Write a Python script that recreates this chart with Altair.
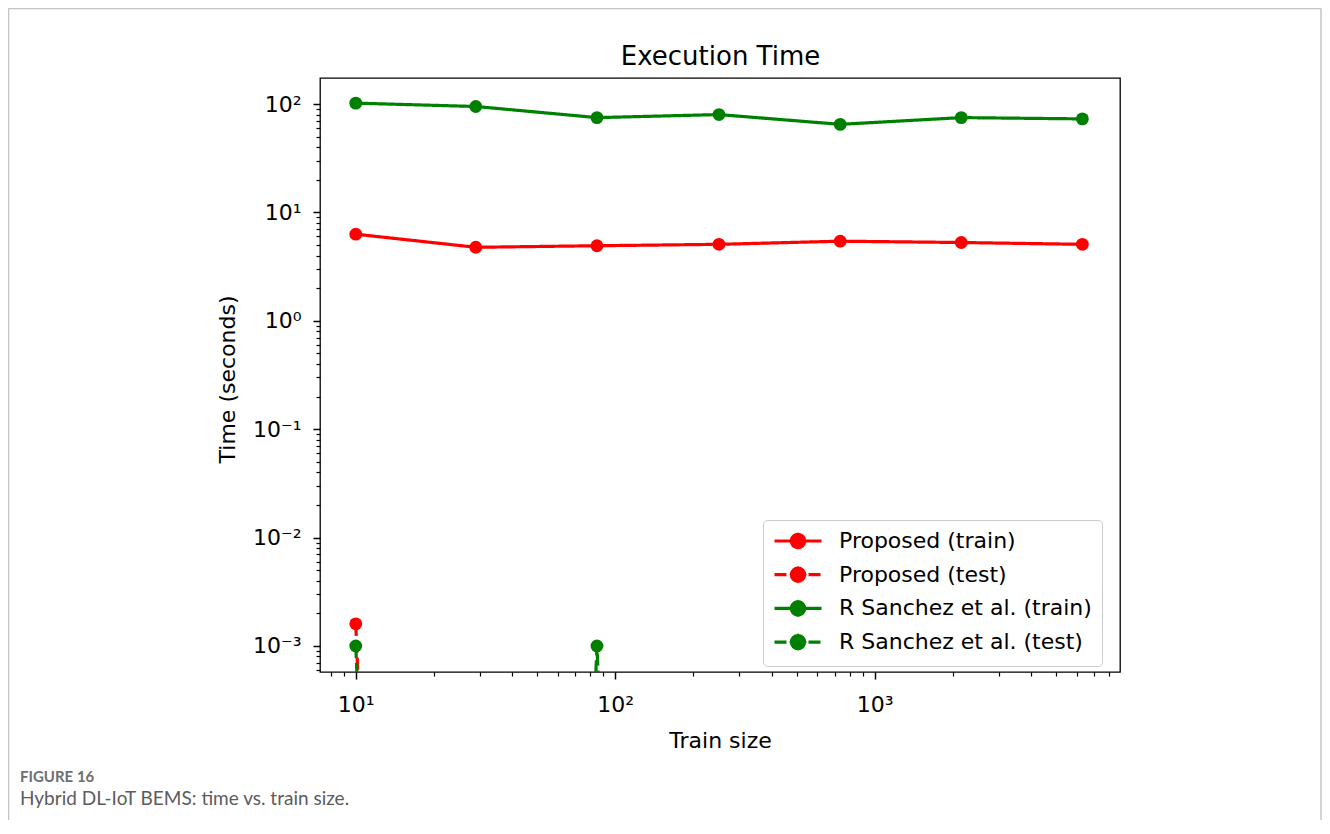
import json
import altair as alt
import pandas as pd

# ---- data ----
train_size = [10, 29, 85, 251, 736, 2154, 6309]
proposed_train = [6.3, 4.77, 4.93, 5.08, 5.43, 5.28, 5.08]
proposed_test = [0.0016, 0, 0, 0, 0, 0, 0]
sanchez_train = [102, 95, 75, 80, 65, 75, 73]
sanchez_test = [0.001, 0, 0.001, 0, 0, 0, 0]

series_names = ["Proposed (train)", "Proposed (test)",
                "R Sanchez et al. (train)", "R Sanchez et al. (test)"]
series_values = [proposed_train, proposed_test, sanchez_train, sanchez_test]
series_colors = ["#ff0000", "#ff0000", "#008000", "#008000"]
series_dashes = [[1, 0], [12, 5], [1, 0], [12, 5]]

x_tick_values = [10, 100, 1000]
x_tick_labels = ["10¹", "10²", "10³"]
y_tick_values = [0.001, 0.01, 0.1, 1, 10, 100]
y_tick_labels = ["10⁻³", "10⁻²", "10⁻¹", "10⁰", "10¹", "10²"]

x_domain = [7.28, 8810]
y_domain = [5.75e-4, 174]

title_text = "Execution Time"
x_title = "Train size"
y_title = "Time (seconds)"
caption_head = "FIGURE 16"
caption_text = "Hybrid DL-IoT BEMS: time vs. train size."

rows = []
for name, vals in zip(series_names, series_values):
    for s, v in zip(train_size, vals):
        rows.append({"size": s, "time": v, "series": name})
df = pd.DataFrame(rows)

x_minor = [m * 10 ** k for k in range(0, 4) for m in range(2, 10)
           if x_domain[0] <= m * 10 ** k <= x_domain[1]]
y_minor = [float(f"{m}e{k}") for k in range(-4, 3) for m in range(2, 10)
           if y_domain[0] <= float(f"{m}e{k}") <= y_domain[1]]

FONT = "DejaVu Sans"


def label_expr(labels, values):
    return "%s[indexof(%s, datum.value)]" % (
        json.dumps(labels, ensure_ascii=False), json.dumps(values))


xs = alt.Scale(type="log", domain=x_domain, nice=False)
ys = alt.Scale(type="log", domain=y_domain, nice=False)

major_x = alt.Axis(orient="bottom", values=x_tick_values,
                   labelExpr=label_expr(x_tick_labels, x_tick_values),
                   title=x_title, grid=False, domain=False,
                   tickSize=7, tickWidth=1.5, tickColor="black",
                   labelFont=FONT, labelFontSize=22, labelColor="black",
                   labelPadding=15, labelFlush=False,
                   titleFont=FONT, titleFontSize=22, titleFontWeight="normal",
                   titleColor="black", titleBaseline="alphabetic", titleY=75)
major_y = alt.Axis(orient="left", values=y_tick_values,
                   labelExpr=label_expr(y_tick_labels, y_tick_values),
                   title=y_title, grid=False, domain=False,
                   tickSize=7, tickWidth=1.5, tickColor="black",
                   labelFont=FONT, labelFontSize=22, labelColor="black",
                   labelPadding=12, labelFlush=False,
                   titleFont=FONT, titleFontSize=22, titleFontWeight="normal",
                   titleColor="black", titleBaseline="alphabetic",
                   titleAngle=270, titleX=-86, titleY=301)
minor_x = alt.Axis(orient="bottom", values=x_minor, labels=False, title=None,
                   grid=False, domain=False, tickSize=4, tickWidth=1.2,
                   tickColor="black")
minor_y = alt.Axis(orient="left", values=y_minor, labels=False, title=None,
                   grid=False, domain=False, tickSize=4, tickWidth=1.2,
                   tickColor="black")

# legend handle: a line with a filled circle; the circle is split into
# short sub-paths (quarter arcs + inner diamond) so a dash never breaks it.
S = 7.0           # sqrt(symbolSize) / 2  -> path units to pixels
L = 23.5 / S      # half handle length
R = 6.6 / S       # marker radius
D = 14.0 / S      # shift of the handle to the right


def p(x, y):
    return f"{x + D:.3f},{y:.3f}"


SYM = (f"M{p(-L, 0)}L{p(L, 0)}"
       f"M{p(R, 0)}A{R:.3f},{R:.3f},0,0,1,{p(0, R)}"
       f"M{p(0, R)}A{R:.3f},{R:.3f},0,0,1,{p(-R, 0)}"
       f"M{p(-R, 0)}A{R:.3f},{R:.3f},0,0,1,{p(0, -R)}"
       f"M{p(0, -R)}A{R:.3f},{R:.3f},0,0,1,{p(R, 0)}"
       f"M{p(R, 0)}L{p(0, R)}L{p(-R, 0)}L{p(0, -R)}Z")
legend = alt.Legend(title=None, orient="none", legendX=443, legendY=442,
                    symbolType=SYM, symbolSize=(2 * S) ** 2,
                    symbolStrokeWidth=3.2,
                    labelFont=FONT, labelFontSize=22, labelColor="black",
                    labelOffset=44, rowPadding=5.7, padding=10, labelLimit=500,
                    strokeColor="#cccccc", fillColor="rgba(255,255,255,0.8)",
                    cornerRadius=4)

base = alt.Chart(df).transform_calculate(t="max(datum.time, 1e-30)")

lines = base.mark_line(clip=True, strokeWidth=3.2).encode(
    x=alt.X("size:Q", scale=xs, axis=major_x),
    y=alt.Y("t:Q", scale=ys, axis=major_y),
    stroke=alt.Stroke("series:N",
                      scale=alt.Scale(domain=series_names, range=series_colors),
                      legend=legend),
    strokeDash=alt.StrokeDash("series:N",
                              scale=alt.Scale(domain=series_names, range=series_dashes),
                              legend=legend),
)

points = base.mark_point(filled=True, opacity=1, size=165, clip=True).encode(
    x=alt.X("size:Q", scale=xs, axis=minor_x),
    y=alt.Y("t:Q", scale=ys, axis=minor_y),
    fill=alt.Fill("series:N",
                  scale=alt.Scale(domain=series_names, range=series_colors),
                  legend=legend),
)

top_title = base.mark_point(opacity=0, clip=True).encode(
    x=alt.X("size:Q", scale=xs,
            axis=alt.Axis(orient="top", title=title_text, labels=False,
                          ticks=False, domain=False, grid=False,
                          titleFont=FONT, titleFontSize=26,
                          titleFontWeight="normal", titleColor="black",
                          titleBaseline="alphabetic", titleY=-14)),
    y=alt.Y("t:Q", scale=ys, axis=None),
)

one = alt.Data(values=[{"k": 1}])
FRAME = "#c4c4c4"
frame_top = alt.Chart(one).mark_rule(color=FRAME, strokeWidth=1.5).encode(
    x=alt.value(-311.5), x2=alt.value(1001), y=alt.value(-69.5), y2=alt.value(-69.5))
frame_left = alt.Chart(one).mark_rule(color=FRAME, strokeWidth=1.5).encode(
    x=alt.value(-311.5), x2=alt.value(-311.5), y=alt.value(-69.5), y2=alt.value(760))
frame_right = alt.Chart(one).mark_rule(color=FRAME, strokeWidth=1.5).encode(
    x=alt.value(1001), x2=alt.value(1001), y=alt.value(-69.5), y2=alt.value(760))

cap1 = alt.Chart(one).mark_text(
    align="left", baseline="alphabetic", font="Lato", fontSize=15,
    fontWeight="bold", color="#6e6e6e"
).encode(x=alt.value(-300), y=alt.value(704), text=alt.value(caption_head))
cap2 = alt.Chart(one).mark_text(
    align="left", baseline="alphabetic", font="Lato", fontSize=19,
    color="#5c5c5c"
).encode(x=alt.value(-300), y=alt.value(727), text=alt.value(caption_text))

chart = alt.layer(
    frame_top, frame_left, frame_right, cap1, cap2, lines, points, top_title
).resolve_axis(
    x="independent", y="independent"
).properties(
    width=800, height=594,
    background="white",
    autosize=alt.AutoSizeParams(type="none"),
    padding={"left": 312, "top": 70, "right": 202, "bottom": 148},
).configure_view(
    stroke="black", strokeWidth=1.3
)

chart.save("out.html", embed_options={"renderer": "svg", "actions": False})
